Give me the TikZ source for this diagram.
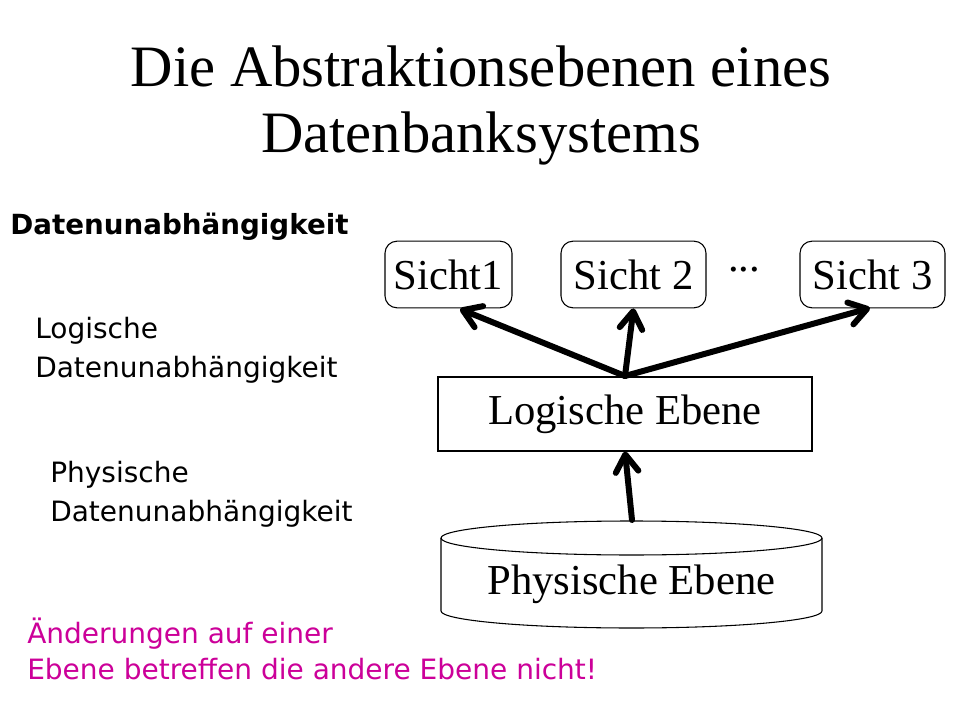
\documentclass[tikz,border=0pt]{standalone}
\usepackage{fontspec}
\setmainfont{Liberation Serif}
\newfontfamily\sansf{DejaVu Sans}
\usetikzlibrary{arrows.meta}
\definecolor{magtxt}{RGB}{204,0,153}
\tikzset{
  sichtbox/.style={draw, line width=0.8pt, rounded corners=9pt, minimum width=#1, minimum height=50pt, inner sep=0pt, font=\fontsize{32}{38}\selectfont},
  flowarrow/.style={line width=4.5pt, line cap=round, -{Straight Barb[length=13pt, width=17pt, line cap=round, line join=round]}},
  sidetxt/.style={anchor=base west, inner sep=0pt, font=\sansf\fontsize{21}{28}\selectfont},
}
\begin{document}
\begin{tikzpicture}[x=0.75pt, y=-0.75pt]
\useasboundingbox (0,0) rectangle (960,720);
\fill[white] (0,0) rectangle (960,720);
% title
\node[anchor=base, inner sep=0pt, font=\fontsize{44}{50}\selectfont] (title1) at (481,87) {Die Abstraktionsebenen eines};
\node[anchor=base, inner sep=0pt, font=\fontsize{44}{50}\selectfont] (title2) at (481,153) {Datenbanksystems};
% left texts
\node[anchor=base west, inner sep=0pt, font=\sansf\bfseries\fontsize{20.8}{24}\selectfont] (du) at (10,235) {Datenunabhängigkeit};
\node[sidetxt] (ldu1) at (35,339) {Logische};
\node[sidetxt] (ldu2) at (35,377) {Datenunabhängigkeit};
\node[sidetxt] (pdu1) at (50,482) {Physische};
\node[sidetxt] (pdu2) at (50,521) {Datenunabhängigkeit};
\node[sidetxt, text=magtxt] (note1) at (27,643) {Änderungen auf einer};
\node[sidetxt, text=magtxt] (note2) at (27,679) {Ebene betreffen die andere Ebene nicht!};
% view boxes
\node[sichtbox=95.25pt] (s1) at (448.5,274.5) {Sicht1};
\node[sichtbox=108.75pt] (s2) at (633.5,274.5) {Sicht 2};
\node[inner sep=0pt, font=\fontsize{32}{38}\selectfont] (dots) at (744,270) {...};
\node[sichtbox=108.75pt] (s3) at (872.5,274.5) {Sicht 3};
% logical level
\node[draw, line width=0.8pt, minimum width=280.5pt, minimum height=55.5pt, inner sep=0pt, font=\fontsize{32}{38}\selectfont] (log) at (625,414) {Logische Ebene};
% physical level cylinder
\draw[line width=0.8pt, fill=white] (441,538) -- (441,611) arc[start angle=180, end angle=0, x radius=190.5, y radius=17] -- (822,538);
\draw[line width=0.8pt] (631.5,538) ellipse[x radius=190.5, y radius=17];
\node[inner sep=0pt, font=\fontsize{32}{38}\selectfont] (phys) at (631.5,584) {Physische Ebene};
\coordinate (phystop) at (632,520);
\coordinate (logtop) at (625,376);
\coordinate (s1tip) at (460,309);
\coordinate (s3tip) at (870,308);
% arrows
\draw[flowarrow] (logtop) -- (s1tip);
\draw[flowarrow] (logtop) -- (s2.south);
\draw[flowarrow] (logtop) -- (s3tip);
\draw[flowarrow] (phystop) -- (log.south);
\end{tikzpicture}
\end{document}
